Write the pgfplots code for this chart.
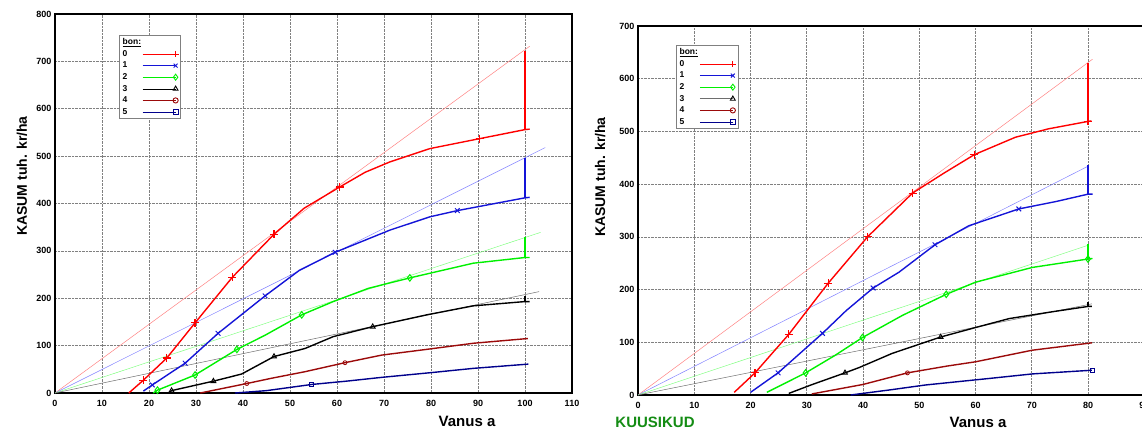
\documentclass[border=0pt]{standalone}
\usepackage{pgfplots}
\pgfplotsset{compat=1.18}
\usepackage{fontspec}
\setmainfont{Liberation Sans}
\definecolor{c0}{RGB}{255,0,0}
\definecolor{c1}{RGB}{20,20,215}
\definecolor{c2}{RGB}{0,240,0}
\definecolor{c3}{RGB}{0,0,0}
\definecolor{c4}{RGB}{155,10,10}
\definecolor{c5}{RGB}{0,0,140}
\definecolor{t0}{RGB}{255,130,130}
\definecolor{t1}{RGB}{130,130,255}
\definecolor{t2}{RGB}{130,255,130}
\definecolor{t3}{RGB}{110,110,110}
\definecolor{kuusk}{RGB}{20,140,20}
\pgfplotsset{
  panel/.style={
    scale only axis, anchor=south west,
    xmin=0, ymin=0,
    axis line style={line width=1.5pt},
    grid=major,
    major grid style={densely dotted, gray, line width=0.6pt},
    major tick length=0pt,
    tick label style={font=\fontsize{9}{10}\selectfont\bfseries},
    xticklabel style={yshift=-4pt},
    /pgf/number format/assume math mode=true,
    legend plot pos=right,
    legend cell align=left,
    legend style={draw=gray, line width=0.8pt, fill=white,
      font=\fontsize{8.5}{9}\selectfont\bfseries,
      inner xsep=2pt, inner ysep=2pt, row sep=1.8pt,
      nodes={inner sep=1.2pt}},
    legend image code/.code={\draw[mark repeat=2,mark phase=2,#1] plot coordinates {(0pt,0pt) (33pt,0pt)};},
  },
  mycurve/.style={line width=1.4pt, no marks, forget plot},
  myref/.style={line width=0.5pt, no marks, forget plot},
  mybar/.style={line width=2.6pt, no marks, forget plot},
  mymarks/.style={only marks, forget plot},
}
\begin{document}
\begin{tikzpicture}[x=1pt,y=1pt]
\useasboundingbox (0,0) rectangle (1142,429);
% ---------------- left panel ----------------
\begin{axis}[panel, at={(55pt,36pt)}, width=517pt, height=379pt,
  xmax=110, ymax=800, xtick={0,10,...,110}, ytick={0,100,...,800},
  legend style={at={(0.124,0.945)}, anchor=north west}]
\addlegendimage{empty legend}\addlegendentry{\underline{bon:}}
\addlegendimage{c0, line width=0.6pt, mark=+, mark size=3.2pt, mark options={line width=1pt}}\addlegendentry{0}
\addlegendimage{c1, line width=0.6pt, mark=x, mark size=2.8pt, mark options={line width=1pt}}\addlegendentry{1}
\addlegendimage{c2, line width=0.6pt, mark=diamond, mark size=3pt, mark options={line width=0.9pt}}\addlegendentry{2}
\addlegendimage{c3, line width=0.6pt, mark=triangle, mark size=2.8pt, mark options={line width=0.9pt}}\addlegendentry{3}
\addlegendimage{c4, line width=0.6pt, mark=o, mark size=2.6pt, mark options={line width=0.9pt}}\addlegendentry{4}
\addlegendimage{c5, line width=0.6pt, mark=square, mark size=2.4pt, mark options={line width=0.9pt}}\addlegendentry{5}
% reference lines
\addplot[myref, t0] coordinates {(0,0) (101,732)};
\addplot[myref, t1] coordinates {(0,0) (104.3,518)};
\addplot[myref, t2] coordinates {(0,0) (103.3,339)};
\addplot[myref, t3] coordinates {(0,0) (103,214)};
% curves
\addplot[mycurve, c0] coordinates {(15.7,0) (18.8,27) (23.8,74) (29.8,148) (37.7,244) (46.6,335) (53,390) (60.6,435) (66,466) (71.3,488) (79.8,516) (90.4,537) (100,556) (101,557)};
\addplot[mycurve, c1] coordinates {(18.8,4) (20.7,17) (27.7,63) (34.7,126) (44.7,205) (52,259) (59.6,297) (71.3,344) (79.8,372) (85.6,385) (100,412) (101,413)};
\addplot[mycurve, c2] coordinates {(20.9,0) (21.8,6) (29.8,38) (38.7,92) (44.7,122) (52.5,165) (59.2,193) (66.7,221) (75.5,243) (89,274) (100,286) (101,286)};
\addplot[mycurve, c3] coordinates {(24.1,0) (24.8,5) (33.7,25) (39.7,40) (46.6,77) (53.2,94) (59.2,119) (67.6,140) (79.1,165) (89,184) (100,193) (101,193)};
\addplot[mycurve, c4] coordinates {(30.9,0) (40.8,20) (46,31) (53.2,45) (61.7,64) (69.5,80) (79,92) (89,105) (100.6,115)};
\addplot[mycurve, c5] coordinates {(38.3,0) (45,5) (54.6,18) (62,25) (69.5,33) (80,43) (89,52) (100.7,61)};
% bars
\addplot[mybar, c0] coordinates {(100,556) (100,722)};
\addplot[mybar, c1] coordinates {(100,412) (100,497)};
\addplot[mybar, c2] coordinates {(100,286) (100,330)};
\addplot[mybar, c3] coordinates {(100,193) (100,205)};
% markers
\addplot[mymarks, c0, mark=+, mark size=4pt, mark options={line width=1.2pt}] coordinates {(18.8,27) (23.8,74) (29.8,148) (37.7,244) (46.6,335) (60.6,435) (90.4,537)};
\addplot[mymarks, c1, mark=x, mark size=3.3pt, mark options={line width=1pt}] coordinates {(20.7,17) (27.7,63) (34.7,126) (44.7,205) (59.6,297) (85.6,385)};
\addplot[mymarks, c2, mark=diamond, mark size=3.3pt, mark options={line width=1pt}] coordinates {(21.8,6) (29.8,38) (38.7,92) (52.5,165) (75.5,243)};
\addplot[mymarks, c3, mark=triangle, mark size=2.8pt, mark options={line width=0.9pt}] coordinates {(24.8,5) (33.7,25) (46.6,77) (67.6,140)};
\addplot[mymarks, c4, mark=o, mark size=2pt, mark options={line width=0.8pt}] coordinates {(40.8,20) (61.7,64)};
\addplot[mymarks, c5, mark=square, mark size=1.8pt, mark options={line width=0.8pt}] coordinates {(54.6,18)};
\end{axis}
\node[rotate=90, anchor=base, font=\fontsize{14}{16}\selectfont\bfseries] at (27,253) {KASUM tuh. kr/ha};
\node[anchor=base, font=\fontsize{15}{17}\selectfont\bfseries] at (467,3) {Vanus a};
% ---------------- right panel ----------------
\begin{axis}[panel, at={(638pt,34pt)}, width=506.25pt, height=369pt,
  xmax=90, ymax=700, xtick={0,10,...,90}, ytick={0,100,...,700},
  legend style={at={(0.075,0.949)}, anchor=north west}]
\addlegendimage{empty legend}\addlegendentry{\underline{bon:}}
\addlegendimage{c0, line width=0.6pt, mark=+, mark size=3.2pt, mark options={line width=1pt}}\addlegendentry{0}
\addlegendimage{c1, line width=0.6pt, mark=x, mark size=2.8pt, mark options={line width=1pt}}\addlegendentry{1}
\addlegendimage{c2, line width=0.6pt, mark=diamond, mark size=3pt, mark options={line width=0.9pt}}\addlegendentry{2}
\addlegendimage{t3, line width=1.3pt, mark=triangle, mark size=2.8pt, mark options={black, line width=0.9pt}}\addlegendentry{3}
\addlegendimage{c4, line width=0.6pt, mark=o, mark size=2.6pt, mark options={line width=0.9pt}}\addlegendentry{4}
\addlegendimage{c5, line width=0.6pt, mark=square, mark size=2.4pt, mark options={line width=0.9pt}}\addlegendentry{5}
\addplot[myref, t0] coordinates {(0,0) (80.8,637)};
\addplot[myref, t1] coordinates {(0,0) (80,434)};
\addplot[myref, t2] coordinates {(0,0) (80,284)};
\addplot[myref, t3] coordinates {(0,0) (80.7,173)};
\addplot[mycurve, c0] coordinates {(17.1,5) (20.8,42) (26.8,115) (33.8,212) (40.8,300) (48.8,383) (54.4,421) (59.8,456) (67.1,489) (73,505) (80,519) (80.6,520)};
\addplot[mycurve, c1] coordinates {(20,5) (24.9,42) (32.8,117) (37,160) (41.8,203) (46.4,233) (52.8,285) (58.8,321) (67.7,353) (74.3,367) (80,381) (80.8,381)};
\addplot[mycurve, c2] coordinates {(22.9,5) (29.8,42) (35,75) (39.9,109) (47,151) (54.8,191) (60,214) (70.1,242) (80,258) (80.8,259)};
\addplot[mycurve, c3] coordinates {(26.8,3) (31,20) (36.8,42) (39.3,52) (45.2,79) (53.8,110) (60,128) (66,145) (73.7,158) (80,168) (80.7,168)};
\addplot[mycurve, c4] coordinates {(30.9,2) (40,20) (47.9,42) (55,55) (60,63) (70.1,85) (80.7,99)};
\addplot[mycurve, c5] coordinates {(37.8,0) (45,10) (51.1,19) (63,32) (70.1,40) (80.7,47)};
\addplot[mybar, c0] coordinates {(80,519) (80,629)};
\addplot[mybar, c1] coordinates {(80,381) (80,437)};
\addplot[mybar, c2] coordinates {(80,258) (80,286)};
\addplot[mybar, c3] coordinates {(80,168) (80,176)};
\addplot[mymarks, c0, mark=+, mark size=4pt, mark options={line width=1.2pt}] coordinates {(20.8,42) (26.8,115) (33.8,212) (40.8,300) (48.8,383) (59.8,456) (80,519)};
\addplot[mymarks, c1, mark=x, mark size=3.3pt, mark options={line width=1pt}] coordinates {(24.9,42) (32.8,117) (41.8,203) (52.8,285) (67.7,353)};
\addplot[mymarks, c2, mark=diamond, mark size=3.3pt, mark options={line width=1pt}] coordinates {(29.8,42) (39.9,109) (54.8,191) (80,258)};
\addplot[mymarks, c3, mark=triangle, mark size=2.8pt, mark options={line width=0.9pt}] coordinates {(36.8,42) (53.8,110)};
\addplot[mymarks, c4, mark=o, mark size=2pt, mark options={line width=0.8pt}] coordinates {(47.9,42)};
\addplot[mymarks, c5, mark=square, mark size=2pt, mark options={line width=0.8pt}] coordinates {(80.7,47)};
\end{axis}
\node[rotate=90, anchor=base, font=\fontsize{14}{16}\selectfont\bfseries] at (605,252) {KASUM tuh. kr/ha};
\node[anchor=base, font=\fontsize{15}{17}\selectfont\bfseries] at (978,2) {Vanus a};
\node[anchor=base, font=\fontsize{15}{17}\selectfont\bfseries, text=kuusk] at (655,2) {KUUSIKUD};
\end{tikzpicture}
\end{document}
